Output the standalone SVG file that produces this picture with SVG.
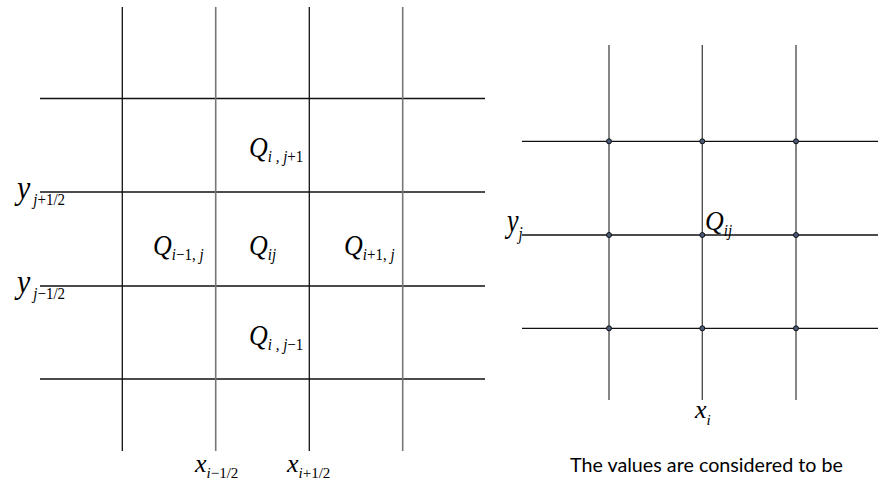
<svg xmlns="http://www.w3.org/2000/svg" width="881" height="483" viewBox="0 0 881 483">
<style>
.bk{stroke:#111;stroke-width:1.3;fill:none}
.gy{stroke:#777;stroke-width:1.6;fill:none}
.rv{stroke:#444;stroke-width:1.3;fill:none}
.m{font-family:"Liberation Serif","Times New Roman",serif;font-style:italic;fill:#000}
.big{font-size:26px}
.yb{font-size:30px}
.sub{font-size:15px}
.up{font-style:normal}
.dot{fill:#4a5a78;stroke:#111;stroke-width:1}
.cap{font-family:Lato,"Open Sans",sans-serif;font-size:20px;fill:#000}
</style>
<rect width="881" height="483" fill="#fff"/>
<g id="left-grid">
<line class="bk" x1="40" y1="98.5" x2="485" y2="98.5"/>
<line class="bk" x1="40" y1="192" x2="485" y2="192"/>
<line class="bk" x1="40" y1="286" x2="485" y2="286"/>
<line class="bk" x1="40" y1="379" x2="485" y2="379"/>
<line class="bk" x1="122.3" y1="7" x2="122.3" y2="451"/>
<line class="gy" x1="215.7" y1="7" x2="215.7" y2="451"/>
<line class="bk" x1="309.3" y1="7" x2="309.3" y2="451"/>
<line class="gy" x1="402.7" y1="7" x2="402.7" y2="451"/>
</g>
<g id="left-labels">
<text class="m big" transform="translate(249,157) scale(1,1.12)">Q<tspan class="sub" dy="4.5">i , j</tspan><tspan class="sub up">+1</tspan></text>
<text class="m big" transform="translate(153,255) scale(1,1.12)">Q<tspan class="sub" dy="4.5">i</tspan><tspan class="sub up">−1, </tspan><tspan class="sub">j</tspan></text>
<text class="m big" transform="translate(249,255) scale(1,1.12)">Q<tspan class="sub" dy="4.5">ij</tspan></text>
<text class="m big" transform="translate(344,255) scale(1,1.12)">Q<tspan class="sub" dy="4.5">i</tspan><tspan class="sub up">+1, </tspan><tspan class="sub">j</tspan></text>
<text class="m big" transform="translate(249,345) scale(1,1.12)">Q<tspan class="sub" dy="4.5">i , j</tspan><tspan class="sub up">−1</tspan></text>
<text class="m yb" transform="translate(17,199) scale(1,1.12)">y<tspan class="sub" dx="3" dy="5.3">j</tspan><tspan class="sub up">+1/2</tspan></text>
<text class="m yb" transform="translate(17,293) scale(1,1.12)">y<tspan class="sub" dx="3" dy="5.3">j</tspan><tspan class="sub up">−1/2</tspan></text>
<text class="m big" x="195" y="472">x<tspan class="sub" dy="6">i</tspan><tspan class="sub up">−1/2</tspan></text>
<text class="m big" x="287" y="472">x<tspan class="sub" dy="6">i</tspan><tspan class="sub up">+1/2</tspan></text>
</g>
<g id="right-grid">
<line class="bk" x1="522" y1="141.3" x2="878" y2="141.3"/>
<line class="bk" x1="522" y1="235" x2="878" y2="235"/>
<line class="bk" x1="522" y1="328.3" x2="878" y2="328.3"/>
<line class="rv" x1="609" y1="45" x2="609" y2="400"/>
<line class="rv" x1="702.3" y1="45" x2="702.3" y2="400"/>
<line class="rv" x1="796" y1="45" x2="796" y2="400"/>
</g>
<g id="nodes">
<circle class="dot" cx="609" cy="141.3" r="2.5"/>
<circle class="dot" cx="702.3" cy="141.3" r="2.5"/>
<circle class="dot" cx="796" cy="141.3" r="2.5"/>
<circle class="dot" cx="609" cy="235" r="2.5"/>
<circle class="dot" cx="702.3" cy="235" r="2.5"/>
<circle class="dot" cx="796" cy="235" r="2.5"/>
<circle class="dot" cx="609" cy="328.3" r="2.5"/>
<circle class="dot" cx="702.3" cy="328.3" r="2.5"/>
<circle class="dot" cx="796" cy="328.3" r="2.5"/>
</g>
<g id="right-labels">
<text class="m big" transform="translate(705,230) scale(1,1.08)">Q<tspan class="sub" dy="6">ij</tspan></text>
<text class="m big" transform="translate(507,232) scale(1,1.3)">y<tspan class="sub" dy="6">j</tspan></text>
<text class="m big" x="695" y="418">x<tspan class="sub" dy="7">i</tspan></text>
<text class="cap" x="570" y="472" textLength="273" lengthAdjust="spacingAndGlyphs">The values are considered to be</text>
</g>
</svg>
